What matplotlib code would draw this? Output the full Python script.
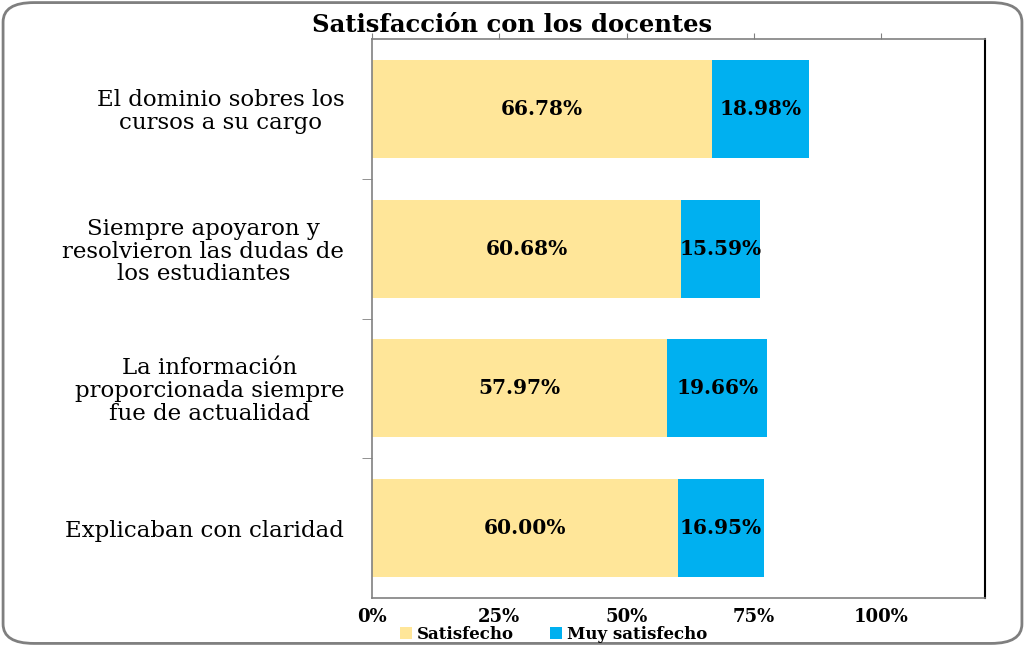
import matplotlib
matplotlib.use("Agg")
from matplotlib import pyplot as plt
from matplotlib.patches import FancyBboxPatch

categorias = ["El dominio sobres los\ncursos a su cargo",
              "Siempre apoyaron y\nresolvieron las dudas de\nlos estudiantes",
              "La información\nproporcionada siempre\nfue de actualidad",
              "Explicaban con claridad"]
satisfecho = [66.78, 60.68, 57.97, 60.00]
muy_satisfecho = [18.98, 15.59, 19.66, 16.95]
ticks = [0, 25, 50, 75, 100]
tick_labels = ["0%", "25%", "50%", "75%", "100%"]

plt.rcParams['font.family'] = ['DejaVu Serif']

fig = plt.figure(figsize=(10.25, 6.46), dpi=100)
ax = fig.add_axes([0.363, 0.0743, 0.598, 0.8653])

y = list(range(len(categorias)))
b1 = ax.barh(y, satisfecho, height=0.7, color="#FFE699", label="Satisfecho")
b2 = ax.barh(y, muy_satisfecho, left=satisfecho, height=0.7, color="#00B0F0",
             label="Muy satisfecho")

for bars, vals in ((b1, satisfecho), (b2, muy_satisfecho)):
    for r, v in zip(bars, vals):
        ax.text(r.get_x() + r.get_width() / 2, r.get_y() + r.get_height() / 2,
                f"{v:.2f}%", ha="center", va="center", fontsize=14.5,
                fontweight="bold", color="black")

ax.set_xlim(0, 120.4)
ax.set_ylim(3.5, -0.5)
ax.set_xticks(ticks)
ax.set_xticklabels(tick_labels, fontsize=13, fontweight="bold")
ax.tick_params(axis="x", top=True, bottom=False, labeltop=False,
               labelbottom=True, direction="out", length=4, color="#808080",
               pad=3)
ax.set_yticks(y)
ax.set_yticklabels(categorias, fontsize=16.5, multialignment="center",
                   linespacing=1.05)
ax.set_yticks([0.5, 1.5, 2.5], minor=True)
ax.tick_params(axis="y", which="major", length=0, pad=20)
ax.tick_params(axis="y", which="minor", length=7, color="#808080")

for s in ("top", "left", "bottom"):
    ax.spines[s].set_color("#808080")
    ax.spines[s].set_linewidth(1.2)
ax.spines["right"].set_color("black")
ax.spines["right"].set_linewidth(1.5)

fig.text(0.5, 0.962, "Satisfacción con los docentes", ha="center",
         va="center", fontsize=17.5, fontweight="bold")

fig.legend(handles=[b1, b2], loc="center", bbox_to_anchor=(0.54, 0.018),
           ncol=2, frameon=False, prop={"weight": "bold", "size": 12},
           handlelength=0.7, handleheight=0.7, columnspacing=2.2,
           handletextpad=0.3, borderpad=0)

border = FancyBboxPatch((0.003, 0.004), 0.994, 0.992,
                        boxstyle="round,pad=0,rounding_size=0.03",
                        transform=fig.transFigure, fill=False,
                        edgecolor="#7f7f7f", linewidth=2)
fig.patches.append(border)

fig.savefig("out.png", dpi=100)
